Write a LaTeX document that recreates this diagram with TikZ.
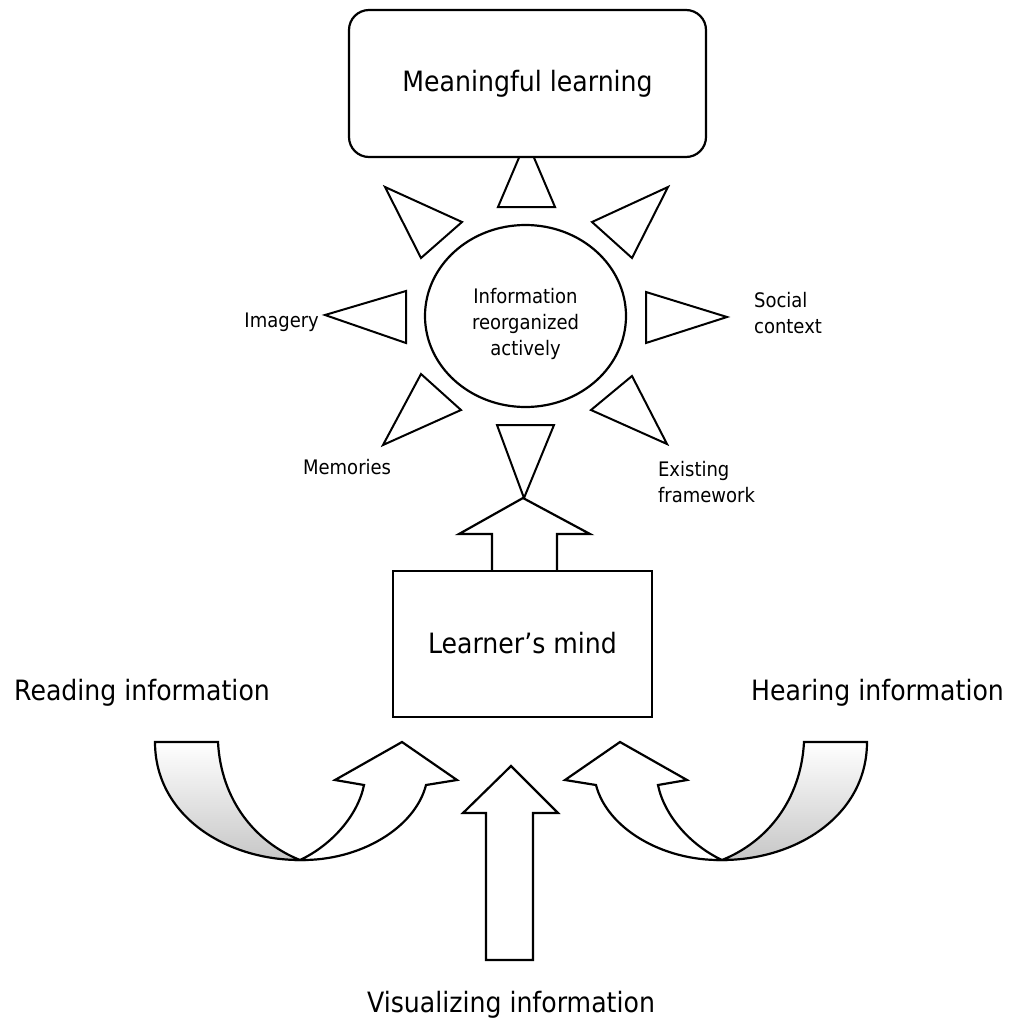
\documentclass[tikz,border=0pt]{standalone}
\usepackage{fontspec}
\setmainfont{DejaVu Sans}[FakeStretch=0.9]
\usetikzlibrary{shapes.geometric}
\begin{document}
\begin{tikzpicture}[x=1pt,y=-1pt,line width=2.2pt,
  bigfont/.style={font=\fontsize{28}{34}\selectfont},
  smallfont/.style={font=\fontsize{20}{26}\selectfont},
  ray/.style={draw=black,fill=white,line width=2pt},
  blockarrow/.style={draw=black,fill=white,line width=2.2pt},
  backside/.style={draw=black,top color=white,bottom color=black!22,line width=2.2pt},
  lbl/.style={inner sep=0pt}]
\useasboundingbox (0,0) rectangle (1014,1026);
\fill[white] (0,0) rectangle (1014,1026);

% top ray (tip hidden behind the box)
\draw[ray] (498,207) -- (526.5,140) -- (555,207) -- cycle;
\node[draw,fill=white,rounded corners=20pt,minimum width=357pt,minimum height=147pt,bigfont] (ml) at (527.5,83.5) {Meaningful learning};

% centre ellipse
\node[draw,ellipse,minimum width=201pt,minimum height=182pt,inner sep=0pt] (info) at (525.5,316) {};
\node[smallfont,align=center,lbl] (infotxt) at (525.5,324) {Information\\reorganized\\actively};

% rays
\draw[ray] (385,187) -- (462,222) -- (421,258) -- cycle;
\draw[ray] (325,315) -- (406,291) -- (406,343) -- cycle;
\draw[ray] (383,445) -- (421,374) -- (461,410) -- cycle;
\draw[ray] (668,187) -- (592,222) -- (632,258) -- cycle;
\draw[ray] (727,317) -- (646,292) -- (646,343) -- cycle;
\draw[ray] (667,444) -- (632,376) -- (591,410) -- cycle;
\draw[ray] (497,425) -- (554,425) -- (524,498) -- cycle;

% ray labels (base = baseline of the last line)
\node[smallfont,lbl,anchor=base east] (imagery) at (320,327) {Imagery};
\node[smallfont,lbl,anchor=base west] (memories) at (302,474) {Memories};
\node[smallfont,lbl,align=left,anchor=base west] (social) at (753,333) {Social\\context};
\node[smallfont,lbl,align=left,anchor=base west] (existing) at (657,502) {Existing\\framework};

% arrow from learner's mind upward
\draw[blockarrow] (492,575) -- (492,534) -- (459,534) -- (523,498) -- (590,534) -- (557,534) -- (557,575);
\node[draw,fill=white,minimum width=259pt,minimum height=146pt,bigfont,text depth=3pt] (mind) at (522.5,644) {Learner’s mind};

% vertical arrow
\draw[blockarrow] (486,960) -- (486,813) -- (463,813) -- (511,766) -- (558,813) -- (533,813) -- (533,960) -- cycle;

% left curved arrow
\draw[backside] (155,742) -- (218,742) .. controls (221,800) and (255,842) .. (300,860)
  .. controls (225,860) and (155,815) .. (155,742) -- cycle;
\draw[blockarrow] (300,860) .. controls (332,845) and (358,815) .. (364,785) -- (335,780) -- (402,742)
  -- (457,780) -- (426,785) .. controls (415,828) and (360,861) .. (300,860) -- cycle;

% right curved arrow (mirror)
\begin{scope}[xshift=1022pt,xscale=-1]
\draw[backside] (155,742) -- (218,742) .. controls (221,800) and (255,842) .. (300,860)
  .. controls (225,860) and (155,815) .. (155,742) -- cycle;
\draw[blockarrow] (300,860) .. controls (332,845) and (358,815) .. (364,785) -- (335,780) -- (402,742)
  -- (457,780) -- (426,785) .. controls (415,828) and (360,861) .. (300,860) -- cycle;
\end{scope}

% input labels
\node[bigfont,lbl,anchor=base west] (reading) at (13,700) {Reading information};
\node[bigfont,lbl,anchor=base east] (hearing) at (1005,700) {Hearing information};
\node[bigfont,lbl,anchor=base] (visual) at (511,1012) {Visualizing information};
\end{tikzpicture}
\end{document}
